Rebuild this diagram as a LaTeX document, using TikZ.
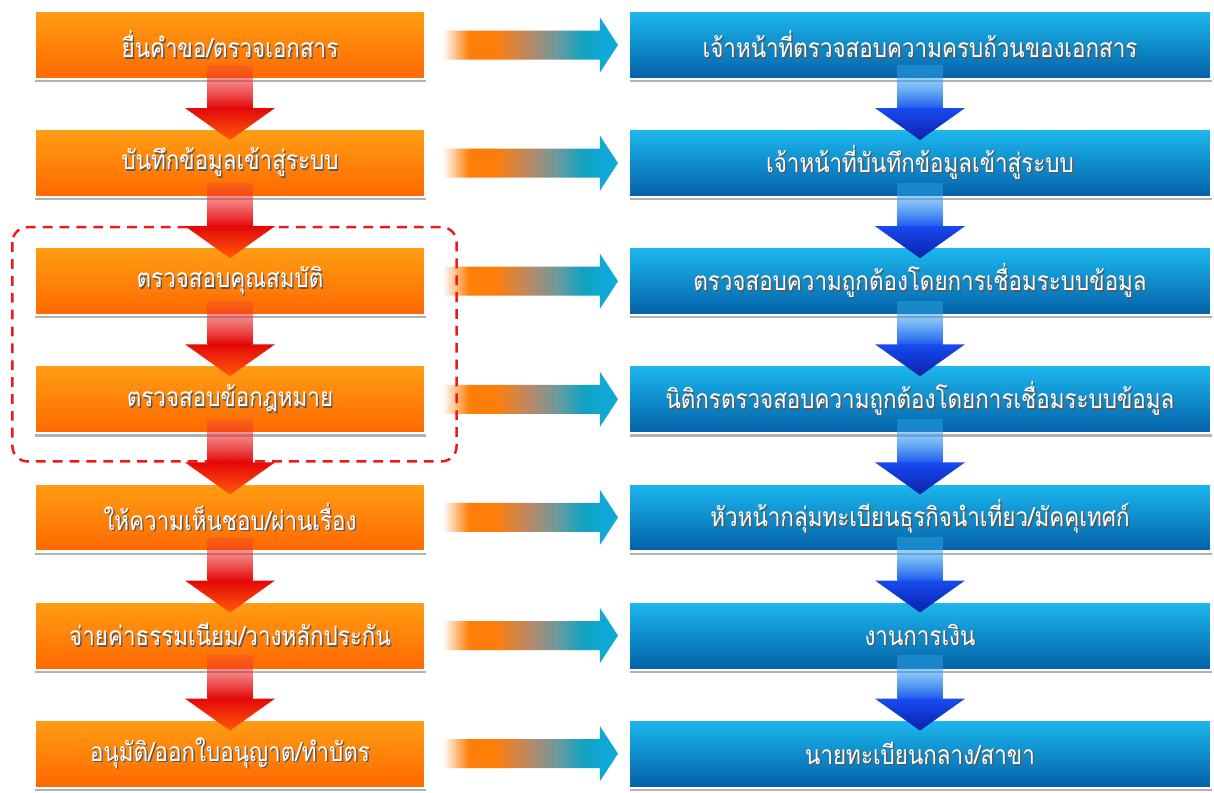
\documentclass[tikz,border=0pt]{standalone}
\usepackage{fontspec}
\newfontfamily\thai[Script=Thai, FakeStretch=0.85]{Loma}
\usepackage{tikz}
\usetikzlibrary{positioning,calc,shadows,fadings}
\definecolor{orangetop}{HTML}{FF9E14}
\definecolor{orangebot}{HTML}{FF6800}
\definecolor{bluetop}{HTML}{1CB9EE}
\definecolor{bluebot}{HTML}{0460A8}
\definecolor{redtop}{HTML}{F03A3A}
\definecolor{redmid}{HTML}{E40808}
\definecolor{redtip}{HTML}{FF5A0A}
\definecolor{cyantop}{HTML}{3CC2F4}
\definecolor{cyanmid}{HTML}{1E5CEE}
\definecolor{navytip}{HTML}{0A22A8}
\definecolor{frame}{HTML}{F01818}
\definecolor{arroworange}{HTML}{FF7E0A}
\definecolor{arrowbrown}{HTML}{B8896A}
\definecolor{arrowgrey}{HTML}{6E9A9E}
\definecolor{arrowteal}{HTML}{12A2C0}
\definecolor{arrowcyan}{HTML}{10A8D6}
\pgfdeclarehorizontalshading{acrossfade}{100bp}{color(0bp)=(white); color(25bp)=(white);
  color(28bp)=(arroworange!40!white); color(32.5bp)=(arroworange); color(40bp)=(arroworange);
  color(50bp)=(arrowbrown); color(57.5bp)=(arrowgrey); color(65bp)=(arrowteal); color(70bp)=(arrowcyan);
  color(100bp)=(arrowcyan)}
\tikzfading[name=shaftfade, top color=transparent!70, bottom color=transparent!0]
\tikzset{
      box/.style      = {draw=white, line width=1.2pt, minimum height=1.36cm,
                         text=white, font=\thai\fontsize{15}{18}\selectfont,
                         drop shadow={shadow xshift=0.4pt, shadow yshift=-1.8pt, fill=black!55, opacity=0.55}},
      orangebox/.style = {box, minimum width=7.82cm, top color=orangetop, bottom color=orangebot},
      bluebox/.style   = {box, minimum width=11.64cm, top color=bluetop, bottom color=bluebot},
      redshaft/.style  = {top color=redtop, bottom color=redmid, path fading=shaftfade},
      redhead/.style   = {top color=redmid, bottom color=redtip},
      blueshaft/.style = {top color=cyantop, bottom color=cyanmid, path fading=shaftfade},
      bluehead/.style  = {top color=cyanmid!80!blue, bottom color=navytip},
      across/.style    = {shading=acrossfade},
      groupframe/.style = {frame, line width=1.4pt, dash pattern=on 5.6pt off 4pt, rounded corners=0.3cm},
    }
\newcommand{\shadowtext}[1]{\rlap{\kern0.8pt\raisebox{-0.8pt}{\textcolor{black!65}{#1}}}#1}
% big arrow down, from box #1 to box #2, colours #3
\newcommand{\flowdown}[3]{%
  \coordinate (top) at ($(#1.south)+(0,0.3)$);
  \coordinate (tip) at ($(#2.north)+(0,-0.24)$);
  \shade[#3shaft] ($(top)+(-0.45,0)$) rectangle ($(tip)+(0.45,0.64)$);
  \shade[#3head] ($(tip)+(-0.9,0.64)$) -- ($(tip)+(0.9,0.64)$) -- (tip) -- cycle;
}
% arrow across, from box #1 to box #2
\newcommand{\flowacross}[2]{%
  \coordinate (s) at ($(#1.east)+(0.32,0)$);
  \coordinate (e) at ($(#2.west)+(-0.2,0)$);
  \shade[across] ($(s)+(0,0.29)$) -- ($(e)+(-0.36,0.29)$) -- ($(e)+(-0.36,0.55)$) -- (e)
     -- ($(e)+(-0.36,-0.55)$) -- ($(e)+(-0.36,-0.29)$) -- ($(s)+(0,-0.29)$) -- cycle;
}

\begin{document}
\begin{tikzpicture}[node distance=0.96cm]
    \useasboundingbox[fill=white] (0,0) rectangle (24.28,-15.84);

    \node [orangebox] (l1) at (4.6,-0.9) {\shadowtext{ยื่นคำขอ/ตรวจเอกสาร}};
    \node [orangebox, below=of l1] (l2) {\shadowtext{บันทึกข้อมูลเข้าสู่ระบบ}};
    \node [orangebox, below=of l2] (l3) {\shadowtext{ตรวจสอบคุณสมบัติ}};
    \node [orangebox, below=of l3] (l4) {\shadowtext{ตรวจสอบข้อกฎหมาย}};
    \node [orangebox, below=of l4] (l5) {\shadowtext{ให้ความเห็นชอบ/ผ่านเรื่อง}};
    \node [orangebox, below=of l5] (l6) {\shadowtext{จ่ายค่าธรรมเนียม/วางหลักประกัน}};
    \node [orangebox, below=of l6] (l7) {\shadowtext{อนุมัติ/ออกใบอนุญาต/ทำบัตร}};

    \node [bluebox] (r1) at (18.4,-0.9) {\shadowtext{เจ้าหน้าที่ตรวจสอบความครบถ้วนของเอกสาร}};
    \node [bluebox, below=of r1] (r2) {\shadowtext{เจ้าหน้าที่บันทึกข้อมูลเข้าสู่ระบบ}};
    \node [bluebox, below=of r2] (r3) {\shadowtext{ตรวจสอบความถูกต้องโดยการเชื่อมระบบข้อมูล}};
    \node [bluebox, below=of r3] (r4) {\shadowtext{นิติกรตรวจสอบความถูกต้องโดยการเชื่อมระบบข้อมูล}};
    \node [bluebox, below=of r4] (r5) {\shadowtext{หัวหน้ากลุ่มทะเบียนธุรกิจนำเที่ยว/มัคคุเทศก์}};
    \node [bluebox, below=of r5] (r6) {\shadowtext{งานการเงิน}};
    \node [bluebox, below=of r6] (r7) {\shadowtext{นายทะเบียนกลาง/สาขา}};

    \flowacross{l1}{r1}
    \flowacross{l2}{r2}
    \flowacross{l3}{r3}
    \flowacross{l4}{r4}
    \flowacross{l5}{r5}
    \flowacross{l6}{r6}
    \flowacross{l7}{r7}

    \draw [groupframe] ($(l3.north west)+(-0.42,0.38)$) rectangle ($(l4.south east)+(0.6,-0.54)$);

    \flowdown{l1}{l2}{red}
    \flowdown{l2}{l3}{red}
    \flowdown{l3}{l4}{red}
    \flowdown{l4}{l5}{red}
    \flowdown{l5}{l6}{red}
    \flowdown{l6}{l7}{red}

    \flowdown{r1}{r2}{blue}
    \flowdown{r2}{r3}{blue}
    \flowdown{r3}{r4}{blue}
    \flowdown{r4}{r5}{blue}
    \flowdown{r5}{r6}{blue}
    \flowdown{r6}{r7}{blue}
\end{tikzpicture}
\end{document}
